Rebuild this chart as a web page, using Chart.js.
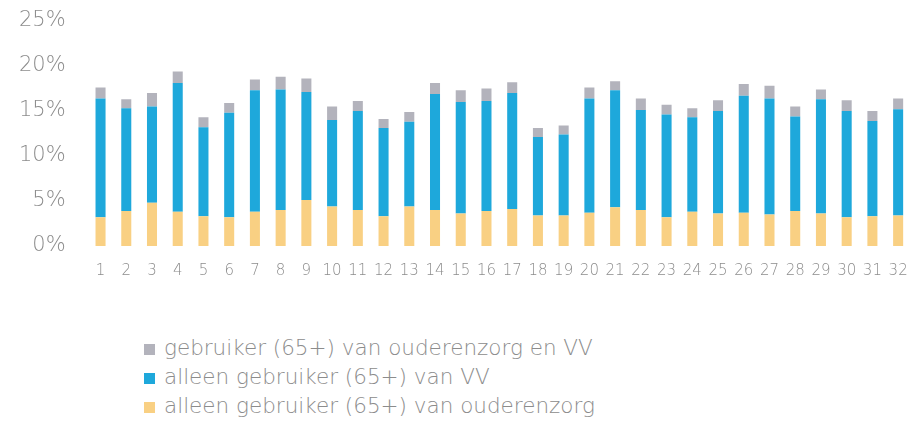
<!DOCTYPE html>
<html>
<head>
<meta charset="utf-8">
<script src="https://cdn.jsdelivr.net/npm/chart.js@4/dist/chart.umd.min.js"></script>
<style>
  html, body { margin: 0; padding: 0; background: #fff; }
  #wrap { position: relative; width: 911px; height: 296px; }
  #legend { position: absolute; left: 144px; top: 333px; font-family: "DejaVu Sans", sans-serif; font-weight: 300; font-size: 21.5px; color: #8c8c8c; }
  #legend div { height: 29px; line-height: 29px; white-space: nowrap; }
  #legend span.box { display: inline-block; width: 11px; height: 11px; margin-right: 9px; vertical-align: 0px; }
</style>
</head>
<body>
<div id="wrap"><canvas id="chart"></canvas></div>
<div id="legend"></div>
<script>
const labels = Array.from({ length: 32 }, (_, i) => String(i + 1));

// percentages
const ouderenzorg = [3.2, 3.9, 4.8, 3.8, 3.3, 3.2, 3.8, 4.0, 5.1, 4.4, 4.0, 3.3, 4.4, 4.0, 3.6, 3.9,
  4.1, 3.4, 3.4, 3.7, 4.3, 4.0, 3.2, 3.8, 3.6, 3.7, 3.5, 3.9, 3.6, 3.2, 3.3, 3.4];
const alleenVV = [13.2, 11.4, 10.7, 14.3, 9.9, 11.6, 13.5, 13.4, 12.0, 9.6, 11.0, 9.8, 9.4, 12.9, 12.4, 12.2,
  12.9, 8.7, 9.0, 12.7, 13.0, 11.1, 11.4, 10.5, 11.4, 13.0, 12.9, 10.5, 12.7, 11.8, 10.6, 11.8];
const beide = [1.2, 1.0, 1.5, 1.3, 1.1, 1.1, 1.2, 1.4, 1.5, 1.5, 1.1, 1.0, 1.1, 1.2, 1.3, 1.4,
  1.2, 1.0, 1.0, 1.2, 1.0, 1.3, 1.1, 1.0, 1.2, 1.3, 1.4, 1.1, 1.1, 1.2, 1.1, 1.2];

const yTicks = [0, 5, 10, 15, 20, 25];

const datasets = [
  { label: 'alleen gebruiker (65+) van ouderenzorg', data: ouderenzorg, backgroundColor: '#f9d083' },
  { label: 'alleen gebruiker (65+) van VV', data: alleenVV, backgroundColor: '#1ea8db' },
  { label: 'gebruiker (65+) van ouderenzorg en VV', data: beide, backgroundColor: '#b3b3bc' },
];

const ctx = document.getElementById('chart').getContext('2d');
new Chart(ctx, {
  type: 'bar',
  data: {
    labels: labels,
    datasets: datasets.map((d) => ({
      ...d,
      barPercentage: 0.78,
      categoryPercentage: 0.5,
    })),
  },
  options: {
    responsive: true,
    maintainAspectRatio: false,
    animation: false,
    layout: { padding: { top: 21, left: -3, right: 0, bottom: 0 } },
    plugins: {
      legend: { display: false },
      tooltip: { enabled: false },
    },
    scales: {
      x: {
        stacked: true,
        grid: { display: false, drawTicks: false },
        border: { display: false },
        ticks: { color: '#8c8c8c', font: { family: 'DejaVu Sans', size: 15, weight: 300 }, padding: 16, maxRotation: 0, autoSkip: false },
        // tick padding should not eat the sides of the plot
        afterFit: (s) => { s.paddingLeft = 0; s.paddingRight = 0; },
      },
      y: {
        stacked: true,
        min: 0,
        max: 25,
        afterBuildTicks: (axis) => { axis.ticks = yTicks.map((v) => ({ value: v })); },
        grid: { display: false, drawTicks: false },
        border: { display: false },
        ticks: {
          color: '#8c8c8c',
          font: { family: 'DejaVu Sans', size: 21, weight: 300 },
          padding: 22,
          callback: (v) => v + '%',
        },
        afterFit: (s) => { s.paddingTop = 0; s.paddingBottom = 0; },
      },
    },
  },
});

// legend as a vertical list, top item is the top of the stack
const legend = document.getElementById('legend');
datasets.slice().reverse().forEach((d) => {
  const row = document.createElement('div');
  const box = document.createElement('span');
  box.className = 'box';
  box.style.background = d.backgroundColor;
  row.appendChild(box);
  row.appendChild(document.createTextNode(d.label));
  legend.appendChild(row);
});
</script>
</body>
</html>
